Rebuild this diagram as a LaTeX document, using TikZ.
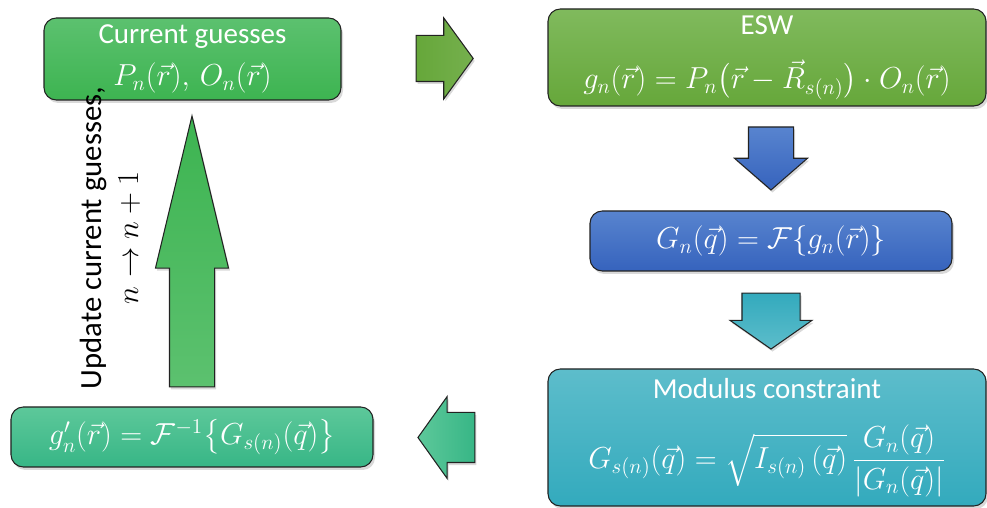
\documentclass[tikz,border=0pt]{standalone}
\usepackage{amsmath,amssymb}
\usepackage{fontspec}
\setmainfont{Carlito}
\usepackage{tikz}
\usetikzlibrary{calc,positioning,shapes.arrows,shadows}
\definecolor{guessgreen}{HTML}{3DB451}
\definecolor{guessgreenlt}{HTML}{5CC16F}
\definecolor{eswgreen}{HTML}{66A73A}
\definecolor{eswgreenlt}{HTML}{80BA5D}
\definecolor{fftblue}{HTML}{3663BD}
\definecolor{fftbluelt}{HTML}{5884CF}
\definecolor{modteal}{HTML}{33AABD}
\definecolor{modteallt}{HTML}{5DBDCB}
\definecolor{invgreen}{HTML}{37B686}
\definecolor{invgreenlt}{HTML}{5DC89A}
\definecolor{edgegray}{HTML}{222222}
\tikzset{
  stepbox/.style={draw=edgegray, line width=0.6pt, rounded corners=7pt, text=white, align=center, inner sep=3pt,
    font=\fontsize{16.5}{19}\selectfont, drop shadow={opacity=0.3, shadow xshift=0.04, shadow yshift=-0.06}},
  guessbox/.style={stepbox, top color=guessgreenlt, bottom color=guessgreen},
  eswbox/.style={stepbox, top color=eswgreenlt, bottom color=eswgreen},
  fftbox/.style={stepbox, top color=fftbluelt, bottom color=fftblue},
  modbox/.style={stepbox, top color=modteallt, bottom color=modteal},
  invbox/.style={stepbox, top color=invgreenlt, bottom color=invgreen},
  blockarrow/.style={single arrow, draw=edgegray, line width=0.6pt, inner xsep=0pt, single arrow head indent=0pt,
    anchor=tail, drop shadow={opacity=0.3, shadow xshift=0.03, shadow yshift=-0.05}}
}

\begin{document}
\begin{tikzpicture}
  \useasboundingbox (0,0) rectangle (19.74,10.16);
  % the five steps of one iteration
  \node[guessbox, minimum width=5.94cm, minimum height=1.64cm] (cur) at (3.85,8.98) {Current guesses\\[5pt]$P_n(\vec{r}),\, O_n(\vec{r})$};
  \node[eswbox, minimum width=8.76cm, minimum height=1.94cm] (esw) at (15.34,9.01) {ESW\\[12pt]$g_n(\vec{r}) = P_n\bigl(\vec{r} - \vec{R}_{s(n)}\bigr)\cdot O_n(\vec{r})$};
  \node[fftbox, minimum width=7.24cm, minimum height=1.2cm] (fft) at (15.42,5.34) {$G_n(\vec{q}) = \mathcal{F}\{g_n(\vec{r})\}$};
  \node[modbox, minimum width=8.76cm, minimum height=2.74cm] (mod) at (15.34,1.41) {Modulus constraint\\[14pt]$G_{s(n)}(\vec{q}) = \sqrt{I_{s(n)}\,(\vec{q})}\,\dfrac{G_n(\vec{q})}{|G_n(\vec{q})|}$};
  \node[invbox, minimum width=7.24cm, minimum height=1.2cm] (inv) at (3.84,1.42) {$g'_n(\vec{r}) = \mathcal{F}^{-1}\bigl\{G_{s(n)}(\vec{q})\bigr\}$};
  % block arrows between the steps, placed by their tails
  \node[blockarrow, left color=eswgreen, right color=eswgreen!90!white, inner ysep=0.45cm, minimum height=1.14cm,
    single arrow head extend=0.35cm, single arrow tip angle=108] (toesw) at ($(cur.east)!0.36!(esw.west)$) {};
  \node[blockarrow, rotate=-90, top color=fftbluelt, bottom color=fftblue, inner ysep=0.44cm, minimum height=1.26cm,
    single arrow head extend=0.28cm, single arrow tip angle=98] (tofft) at ($(fft.north)+(0,1.68)$) {};
  \node[blockarrow, rotate=-90, top color=modteal, bottom color=modteallt, inner ysep=0.57cm, minimum height=1.12cm,
    single arrow head extend=0.24cm, single arrow tip angle=110] (tomod) at ($(fft.south)+(0,-0.42)$) {};
  \node[blockarrow, rotate=180, left color=invgreenlt, right color=invgreen, inner ysep=0.49cm, minimum height=1.14cm,
    single arrow head extend=0.32cm, single arrow tip angle=109] (toinv) at ($(mod.west)+(-1.44,0)$) {};
  \node[blockarrow, rotate=90, top color=guessgreen, bottom color=guessgreenlt, inner ysep=0.44cm, minimum height=5.42cm,
    single arrow head extend=0.28cm, single arrow tip angle=27] (tocur) at ($(inv.north)+(0,0.38)$) {};
  \node[rotate=90, align=center, font=\fontsize{17.5}{21}\selectfont] (update) at (2.2,5.4) {Update current guesses,\\$n \rightarrow n+1$};
\end{tikzpicture}
\end{document}
